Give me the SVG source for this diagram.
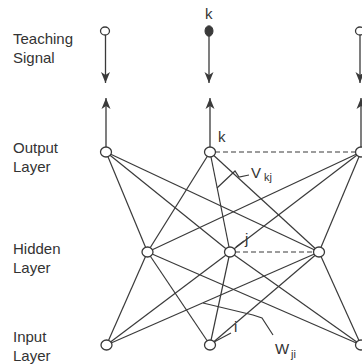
<svg xmlns="http://www.w3.org/2000/svg" width="362" height="364" viewBox="0 0 362 364">
  <style>
    .edge { stroke: #3a3a3a; stroke-width: 1.2; fill: none; }
    .dash { stroke: #3a3a3a; stroke-width: 1.2; fill: none; stroke-dasharray: 5 3; }
    .sig { stroke: #3a3a3a; stroke-width: 1.3; fill: none; }
    .node { fill: #fff; stroke: #3a3a3a; stroke-width: 1.3; }
    .fill { fill: #3a3a3a; stroke: #3a3a3a; stroke-width: 1; }
    .lab { font-family: "Liberation Sans", Arial, sans-serif; font-size: 15px; fill: #333; }
    .sym { font-family: "Liberation Sans", Arial, sans-serif; font-size: 15px; fill: #333; }
    .sub { font-family: "Liberation Sans", Arial, sans-serif; font-size: 11px; fill: #333; }
  </style>
  <defs>
    <marker id="head" viewBox="0 0 12 10" refX="11" refY="5" markerWidth="12" markerHeight="10" markerUnits="userSpaceOnUse" orient="auto">
      <path d="M0,0.5 L11,5 L0,9.5 L3,5 z" fill="#3a3a3a"/>
    </marker>
  </defs>

  <rect width="362" height="364" fill="#fff"/>

  <!-- layer captions -->
  <g id="captions">
    <text class="lab" x="13" y="44">Teaching</text>
    <text class="lab" x="13" y="63">Signal</text>
    <text class="lab" x="13" y="153">Output</text>
    <text class="lab" x="13" y="172">Layer</text>
    <text class="lab" x="13" y="254">Hidden</text>
    <text class="lab" x="13" y="273">Layer</text>
    <text class="lab" x="13" y="342">Input</text>
    <text class="lab" x="13" y="361">Layer</text>
  </g>

  <!-- connectors -->
  <g id="connectors">
    <!-- teaching signal and output arrows -->
    <line class="sig" x1="105.5" y1="35" x2="105.5" y2="83" marker-end="url(#head)"/>
    <line class="sig" x1="209" y1="36" x2="209" y2="83" marker-end="url(#head)"/>
    <line class="sig" x1="360" y1="35" x2="360" y2="83" marker-end="url(#head)"/>
    <line class="sig" x1="106" y1="147" x2="106" y2="98" marker-end="url(#head)"/>
    <line class="sig" x1="210" y1="147" x2="210" y2="98" marker-end="url(#head)"/>
    <line class="sig" x1="361" y1="147" x2="361" y2="98" marker-end="url(#head)"/>

    <!-- output to hidden -->
    <line class="edge" x1="106" y1="152" x2="147.5" y2="252"/>
    <line class="edge" x1="106" y1="152" x2="230" y2="252"/>
    <line class="edge" x1="106" y1="152" x2="319" y2="252"/>
    <line class="edge" x1="210" y1="152" x2="147.5" y2="252"/>
    <line class="edge" x1="210" y1="152" x2="230" y2="252"/>
    <line class="edge" x1="210" y1="152" x2="319" y2="252"/>
    <line class="edge" x1="361" y1="152" x2="147.5" y2="252"/>
    <line class="edge" x1="361" y1="152" x2="230" y2="252"/>
    <line class="edge" x1="361" y1="152" x2="319" y2="252"/>

    <!-- hidden to input -->
    <line class="edge" x1="147.5" y1="252" x2="106.5" y2="345"/>
    <line class="edge" x1="147.5" y1="252" x2="210" y2="345"/>
    <line class="edge" x1="147.5" y1="252" x2="361" y2="345"/>
    <line class="edge" x1="230" y1="252" x2="106.5" y2="345"/>
    <line class="edge" x1="230" y1="252" x2="210" y2="345"/>
    <line class="edge" x1="230" y1="252" x2="361" y2="345"/>
    <line class="edge" x1="319" y1="252" x2="106.5" y2="345"/>
    <line class="edge" x1="319" y1="252" x2="210" y2="345"/>
    <line class="edge" x1="319" y1="252" x2="361" y2="345"/>

    <!-- lateral (dashed) links -->
    <line class="dash" x1="215" y1="152" x2="356" y2="152"/>
    <line class="dash" x1="235" y1="252" x2="314" y2="252"/>

    <!-- weight leaders -->
    <path class="edge" d="M217,188 L235,171 L239,177 L249,175"/>
    <path class="edge" d="M203,303 L253,315 L262,318 L273,335"/>
    <path class="edge" d="M236,247 L244,241"/>
    <path class="edge" d="M214,342 L231,333"/>
  </g>

  <!-- teaching signal nodes -->
  <g id="teach-1"><ellipse class="node" cx="105" cy="31" rx="4.5" ry="4"/></g>
  <g id="teach-k"><ellipse class="fill" cx="209" cy="31" rx="4" ry="5.2"/></g>
  <g id="teach-3"><ellipse class="node" cx="360" cy="31" rx="4.5" ry="4"/></g>

  <!-- output layer -->
  <g id="out-1"><ellipse class="node" cx="106" cy="152" rx="5.5" ry="5"/></g>
  <g id="out-k"><ellipse class="node" cx="210" cy="152" rx="5.5" ry="5"/></g>
  <g id="out-3"><ellipse class="node" cx="361" cy="152" rx="5.5" ry="5"/></g>

  <!-- hidden layer -->
  <g id="hid-1"><ellipse class="node" cx="147.5" cy="252" rx="5.5" ry="5"/></g>
  <g id="hid-j"><ellipse class="node" cx="230" cy="252" rx="5.5" ry="5"/></g>
  <g id="hid-3"><ellipse class="node" cx="319" cy="252" rx="5.5" ry="5"/></g>

  <!-- input layer -->
  <g id="in-1"><ellipse class="node" cx="106.5" cy="345" rx="5.5" ry="5"/></g>
  <g id="in-i"><ellipse class="node" cx="210" cy="345" rx="5.5" ry="5"/></g>
  <g id="in-3"><ellipse class="node" cx="361" cy="345" rx="5.5" ry="5"/></g>

  <!-- index and weight labels -->
  <g id="labels">
    <text class="sym" x="205" y="19">k</text>
    <text class="sym" x="218" y="142">k</text>
    <text class="sym" x="251" y="178">V</text>
    <text class="sub" x="264" y="181">kj</text>
    <text class="sym" x="245" y="244">j</text>
    <text class="sym" x="234" y="332">i</text>
    <text class="sym" x="275" y="354">W</text>
    <text class="sub" x="291" y="358">ji</text>
  </g>
</svg>
